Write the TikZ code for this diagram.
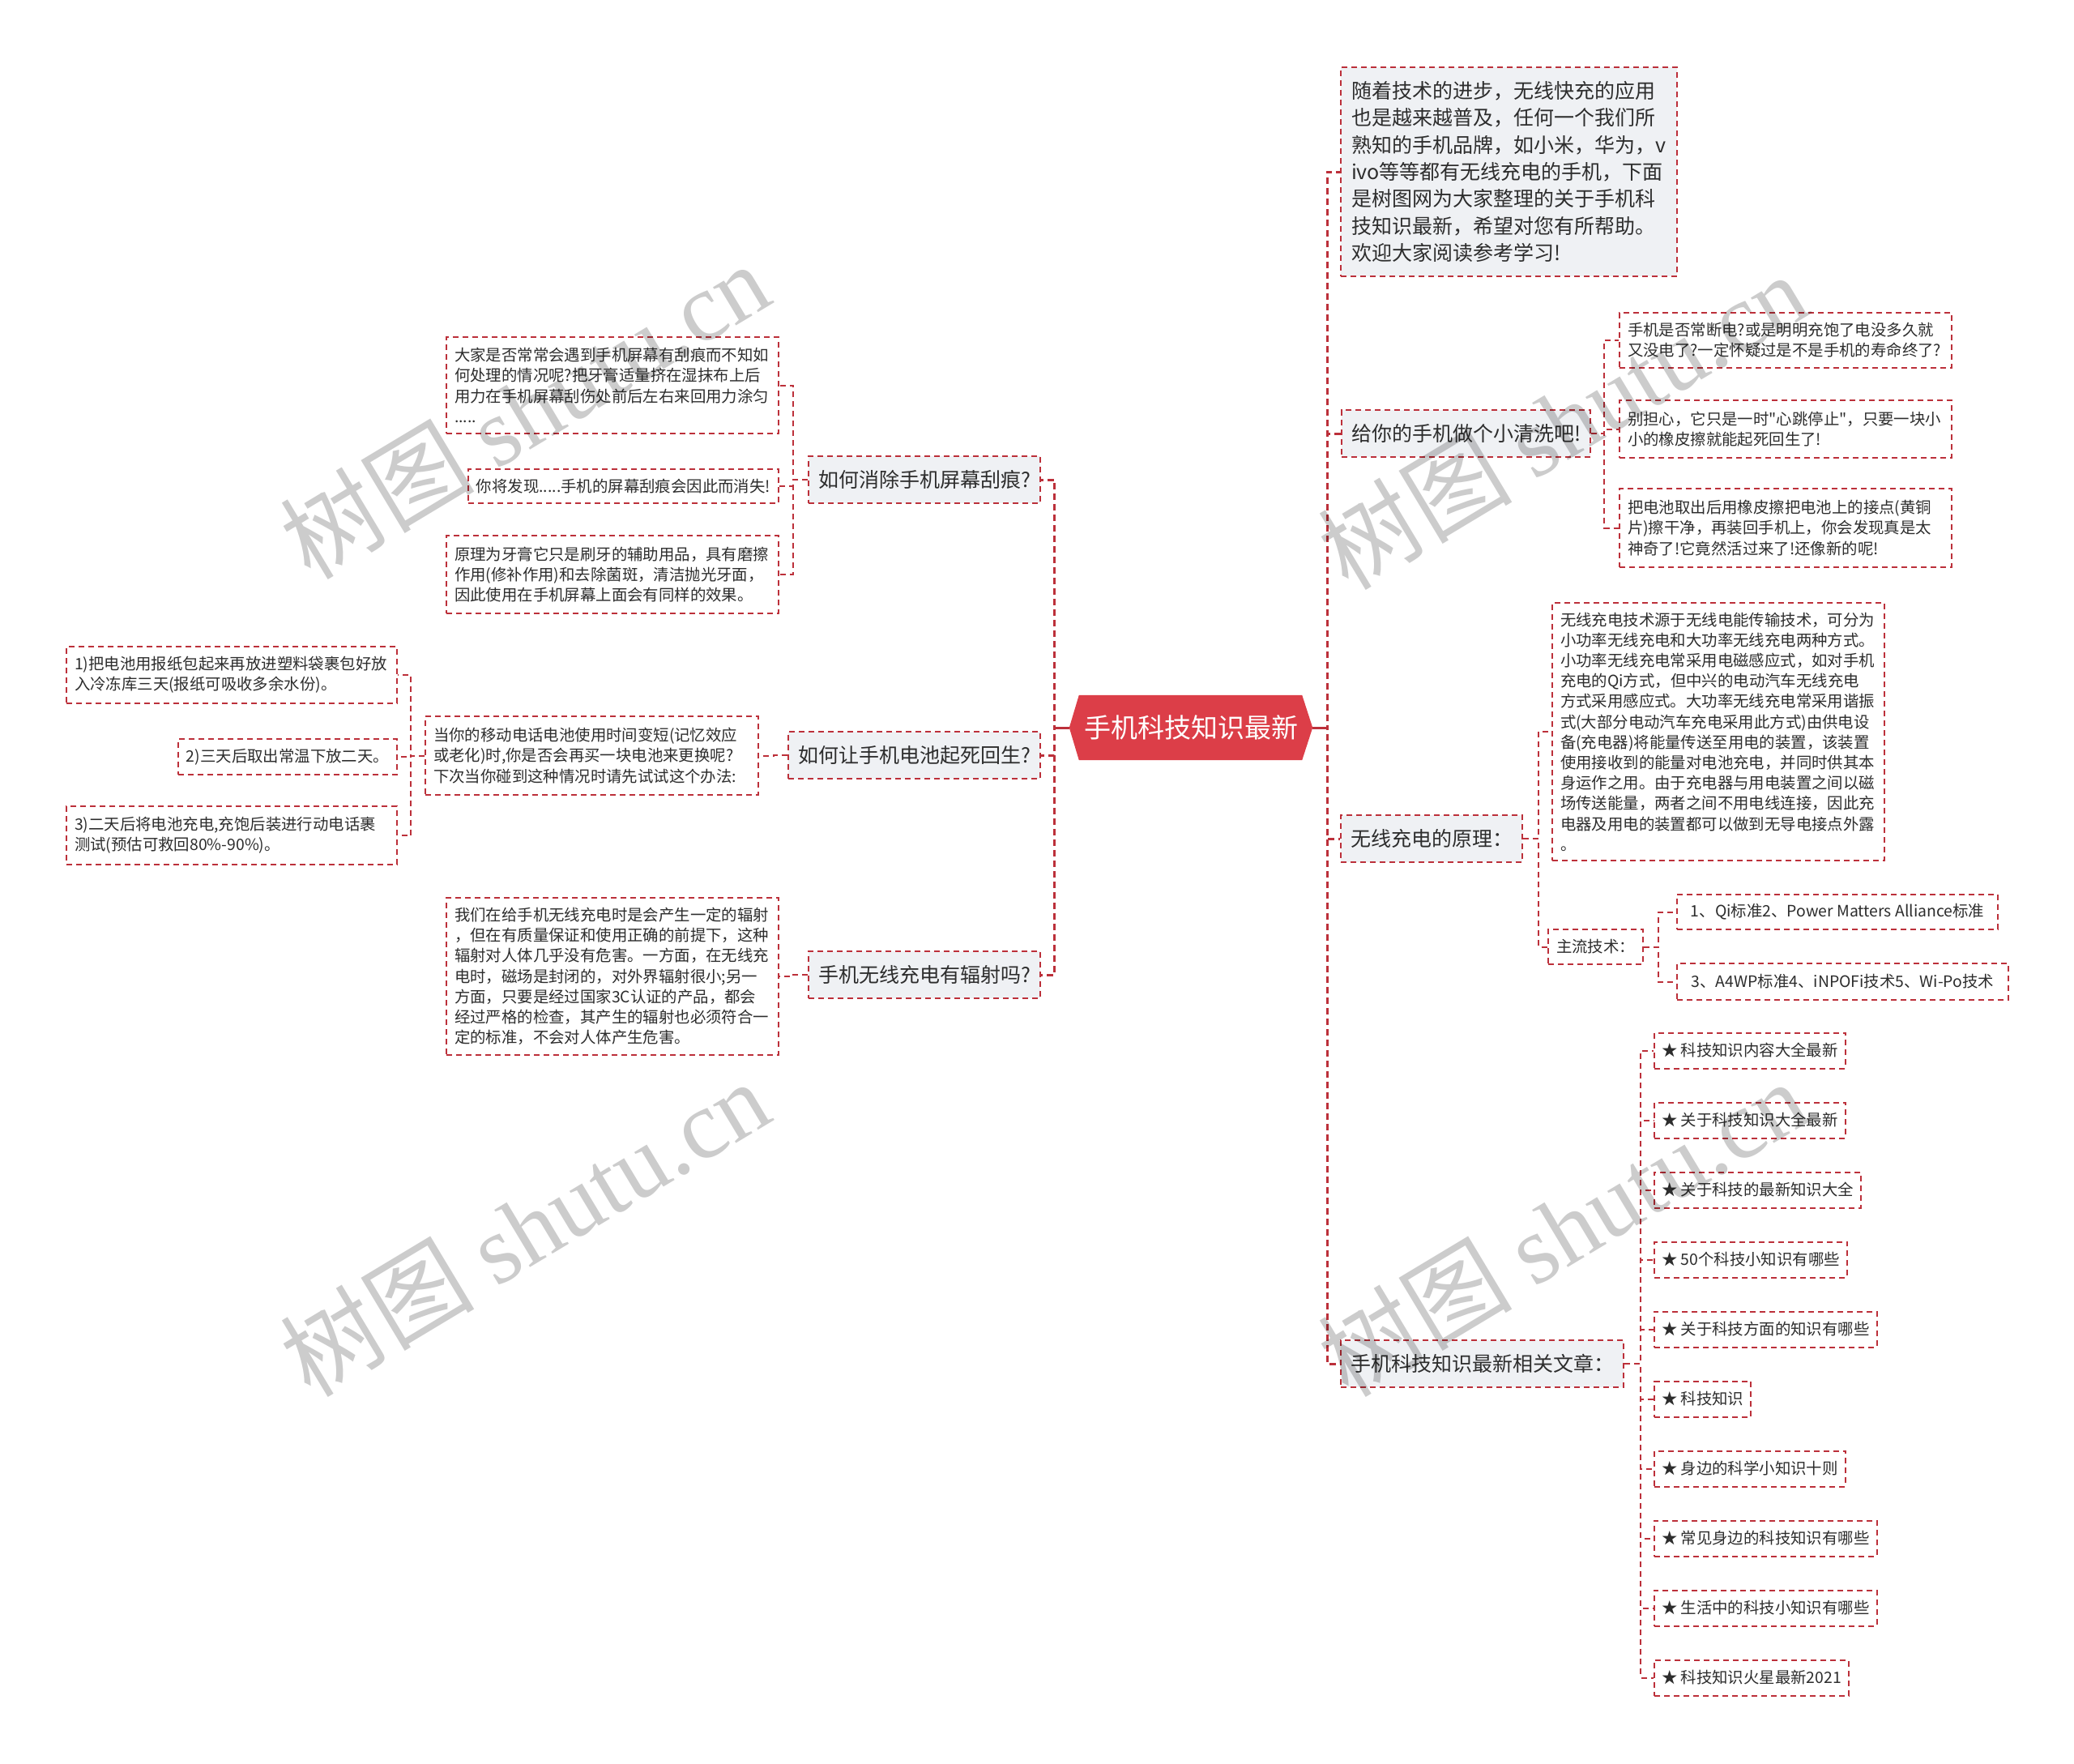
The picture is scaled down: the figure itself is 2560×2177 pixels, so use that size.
\documentclass[tikz,border=0pt]{standalone}
\usepackage{fontspec}
\setmainfont{Noto Sans CJK SC}[Ligatures=TeXOff]
\newfontfamily\cjk{Noto Sans CJK SC}
\newfontfamily\wmserif{Liberation Serif}
\usetikzlibrary{backgrounds}
\definecolor{bd}{RGB}{188,48,58}
\definecolor{hub}{RGB}{220,62,72}
\definecolor{lonefill}{RGB}{239,241,244}
\definecolor{tx}{RGB}{45,45,45}
\tikzset{
  box/.style={draw=bd, line width=2pt, dash pattern=on 7pt off 5pt, text=tx, inner ysep=0pt, align=left},
  lvlone/.style={box, fill=lonefill, font=\fontsize{25}{33.3}\selectfont, minimum height=58pt, inner xsep=12pt},
  leaf/.style={box, fill=white, font=\fontsize{19.4}{25.2}\selectfont, inner xsep=10pt},
  star/.style={leaf, minimum height=44pt, inner xsep=9pt, anchor=west},
  link/.style={draw=bd, line width=2pt, dash pattern=on 7pt off 5pt},
  mainlink/.style={draw=bd, line width=3pt, dash pattern=on 8pt off 5pt},
  hubnode/.style={minimum width=300pt, minimum height=80pt, inner sep=0pt, text=white, font=\fontsize{33}{40}\selectfont},
  wmark/.style={rotate=31, text=black, text opacity=0.2, font=\fontsize{120}{130}\selectfont, inner sep=0pt}
}
\begin{document}
\begin{tikzpicture}[x=1pt,y=-1pt]
\useasboundingbox (0,0) rectangle (2560,2177);
% hub
\node[hubnode] (c) at (1470,898) {手机科技知识最新};
\begin{scope}[on background layer]
\fill[hub] (c.west) -- ([xshift=12pt]c.north west) -- ([xshift=-13pt]c.north east) -- (c.east) -- ([xshift=-13pt]c.south east) -- ([xshift=12pt]c.south west) -- cycle;
\end{scope}
% right level one
\node[lvlone, anchor=north west, minimum height=258pt, text width=389pt, inner xsep=13pt] (r1) at (1654,82) {随着技术的进步，无线快充的应用\\也是越来越普及，任何一个我们所\\熟知的手机品牌，如小米，华为，v\\ivo等等都有无线充电的手机，下面\\是树图网为大家整理的关于手机科\\技知识最新，希望对您有所帮助。\\欢迎大家阅读参考学习!};
\node[lvlone, anchor=north west] (r2) at (1655,505) {给你的手机做个小清洗吧!};
\node[lvlone, anchor=north west] (r3) at (1654,1005) {无线充电的原理：};
\node[lvlone, anchor=north west] (r4) at (1654,1653) {手机科技知识最新相关文章：};
% r2 children
\node[leaf, anchor=north west, text width=390pt, minimum height=68pt] (r2a) at (1998,385) {手机是否常断电?或是明明充饱了电没多久就\\又没电了?一定怀疑过是不是手机的寿命终了?};
\node[leaf, anchor=north west, text width=390pt, minimum height=71pt] (r2b) at (1998,493) {别担心，它只是一时"心跳停止"，只要一块小\\小的橡皮擦就能起死回生了!};
\node[leaf, anchor=north west, text width=390pt, minimum height=97pt] (r2c) at (1998,602) {把电池取出后用橡皮擦把电池上的接点(黄铜\\片)擦干净，再装回手机上，你会发现真是太\\神奇了!它竟然活过来了!还像新的呢!};
% r3 children
\node[leaf, anchor=north west, text width=390pt, minimum height=318pt] (r3a) at (1915,743) {无线充电技术源于无线电能传输技术，可分为\\小功率无线充电和大功率无线充电两种方式。\\小功率无线充电常采用电磁感应式，如对手机\\充电的Qi方式，但中兴的电动汽车无线充电\\方式采用感应式。大功率无线充电常采用谐振\\式(大部分电动汽车充电采用此方式)由供电设\\备(充电器)将能量传送至用电的装置，该装置\\使用接收到的能量对电池充电，并同时供其本\\身运作之用。由于充电器与用电装置之间以磁\\场传送能量，两者之间不用电线连接，因此充\\电器及用电的装置都可以做到无导电接点外露\\。};
\node[leaf, anchor=north west, minimum height=43pt] (r3b) at (1910,1146) {主流技术：};
\node[leaf, anchor=north west, minimum height=43pt, minimum width=396pt] (r3ba) at (2069,1103) {1、Qi标准2、Power Matters Alliance标准};
\node[leaf, anchor=north west, minimum height=45pt, minimum width=409pt] (r3bb) at (2069,1188) {3、A4WP标准4、iNPOFi技术5、Wi-Po技术};
% r4 children
\node[star] (s1) at (2041,1296.5) {★ 科技知识内容大全最新};
\node[star] (s2) at (2041,1382.5) {★ 关于科技知识大全最新};
\node[star] (s3) at (2041,1468.5) {★ 关于科技的最新知识大全};
\node[star] (s4) at (2041,1554.5) {★ 50个科技小知识有哪些};
\node[star] (s5) at (2041,1640.5) {★ 关于科技方面的知识有哪些};
\node[star] (s6) at (2041,1726.5) {★ 科技知识};
\node[star] (s7) at (2041,1812.5) {★ 身边的科学小知识十则};
\node[star] (s8) at (2041,1898.5) {★ 常见身边的科技知识有哪些};
\node[star] (s9) at (2041,1984.5) {★ 生活中的科技小知识有哪些};
\node[star] (s10) at (2041,2070.5) {★ 科技知识火星最新2021};
% left level one
\node[lvlone, anchor=east] (l1) at (1285,592) {如何消除手机屏幕刮痕?};
\node[lvlone, anchor=east] (l2) at (1285,932) {如何让手机电池起死回生?};
\node[lvlone, anchor=east] (l3) at (1285,1203) {手机无线充电有辐射吗?};
% l1 children
\node[leaf, anchor=north east, text width=390pt, minimum height=119pt] (l1a) at (962,415) {大家是否常常会遇到手机屏幕有刮痕而不知如\\何处理的情况呢?把牙膏适量挤在湿抹布上后\\用力在手机屏幕刮伤处前后左右来回用力涂匀\\.....};
\node[leaf, anchor=north east, minimum height=42pt] (l1b) at (962,578) {你将发现.....手机的屏幕刮痕会因此而消失!};
\node[leaf, anchor=north east, text width=390pt, minimum height=96pt] (l1c) at (962,660) {原理为牙膏它只是刷牙的辅助用品，具有磨擦\\作用(修补作用)和去除菌斑，清洁抛光牙面，\\因此使用在手机屏幕上面会有同样的效果。};
% l2 children
\node[leaf, anchor=north east, text width=391pt, minimum height=97pt] (l2a) at (937,883) {当你的移动电话电池使用时间变短(记忆效应\\或老化)时,你是否会再买一块电池来更换呢?\\下次当你碰到这种情况时请先试试这个办法:};
\node[leaf, anchor=north east, text width=388pt, minimum height=70pt] (l2aa) at (491,797) {1)把电池用报纸包起来再放进塑料袋裹包好放\\入冷冻库三天(报纸可吸收多余水份)。};
\node[leaf, anchor=north east, minimum height=44pt] (l2ab) at (491,911) {2)三天后取出常温下放二天。};
\node[leaf, anchor=north east, text width=388pt, minimum height=72pt] (l2ac) at (491,994) {3)二天后将电池充电,充饱后装进行动电话裹\\测试(预估可救回80\%-90\%)。};
% l3 children
\node[leaf, anchor=north east, text width=390pt, minimum height=194pt] (l3a) at (962,1107) {我们在给手机无线充电时是会产生一定的辐射\\，但在有质量保证和使用正确的前提下，这种\\辐射对人体几乎没有危害。一方面，在无线充\\电时，磁场是封闭的，对外界辐射很小;另一\\方面，只要是经过国家3C认证的产品，都会\\经过严格的检查，其产生的辐射也必须符合一\\定的标准，不会对人体产生危害。};
% main connectors
\foreach \n in {r1,r2,r3,r4} \draw[mainlink] (c.east) -- ++(18,0) |- (\n.west);
\foreach \n in {l1,l2,l3} \draw[mainlink] (c.west) -- ++(-18,0) |- (\n.east);
\draw[bd, line width=3pt] (c.east) -- ++(18,0);
\draw[bd, line width=3pt] (c.west) -- ++(-18,0);
% sub connectors right
\foreach \n in {r2a,r2b,r2c} \draw[link] (r2.east) -- ++(16,0) |- (\n.west);
\foreach \n in {r3a,r3b} \draw[link] (r3.east) -- ++(19,0) |- (\n.west);
\foreach \n in {r3ba,r3bb} \draw[link] (r3b.east) -- ++(18,0) |- (\n.west);
\foreach \n in {s1,s2,s3,s4,s5,s6,s7,s8,s9,s10} \draw[link] (r4.east) -- ++(20,0) |- (\n.west);
% sub connectors left
\foreach \n in {l1a,l1b,l1c} \draw[link] (l1.west) -- ++(-18,0) |- (\n.east);
\draw[link] (l2.west) -- ++(-17,0) |- (l2a.east);
\foreach \n in {l2aa,l2ab,l2ac} \draw[link] (l2a.west) -- ++(-17,0) |- (\n.east);
\draw[link] (l3.west) -- ++(-18,0) |- (l3a.east);
% watermarks
\node[wmark] (wm1) at (647,506) {{\cjk 树图} {\wmserif shutu.cn}};
\node[wmark] (wm2) at (647,1515) {{\cjk 树图} {\wmserif shutu.cn}};
\node[wmark] (wm3) at (1928,519) {{\cjk 树图} {\wmserif shutu.cn}};
\node[wmark] (wm4) at (1928,1515) {{\cjk 树图} {\wmserif shutu.cn}};
\end{tikzpicture}
\end{document}
